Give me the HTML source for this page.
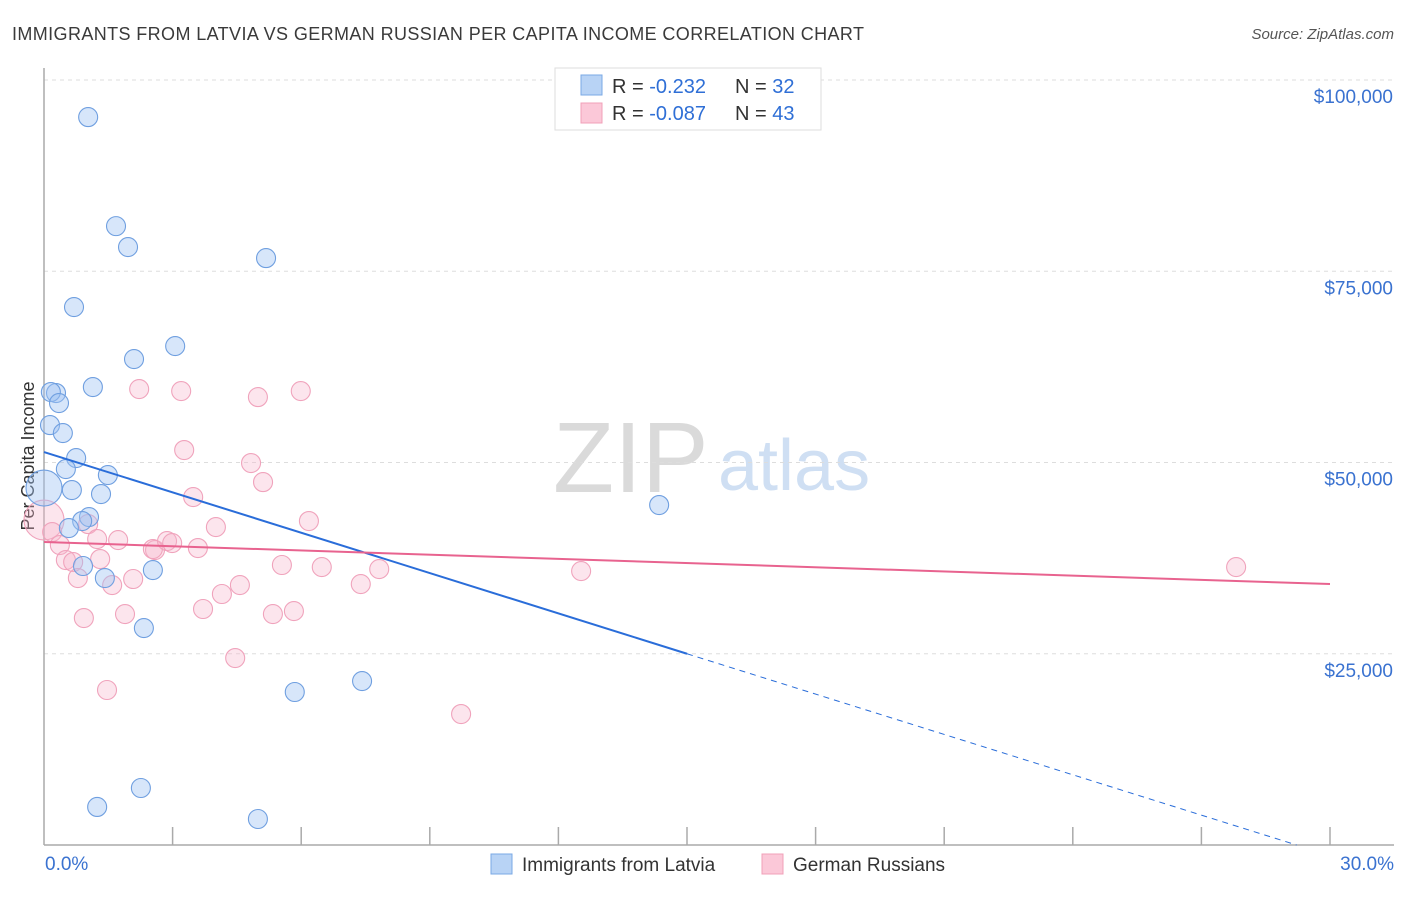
<!DOCTYPE html>
<html><head><meta charset="utf-8"><style>
body{margin:0;background:#fff;font-family:"Liberation Sans",sans-serif}
svg text{font-family:"Liberation Sans",sans-serif}
</style></head><body>
<svg id="c" width="1406" height="892" xmlns="http://www.w3.org/2000/svg">
<text x="12" y="40" font-size="18" fill="#3a3a3a" textLength="852" lengthAdjust="spacing">IMMIGRANTS FROM LATVIA VS GERMAN RUSSIAN PER CAPITA INCOME CORRELATION CHART</text>
<text x="1394" y="39" font-size="15" font-style="italic" fill="#555" text-anchor="end">Source: ZipAtlas.com</text>
<text x="553" y="492" font-size="100" font-family="Liberation Serif" fill="#dadada">ZIP</text>
<text x="718" y="490" font-size="72" fill="#cfdff3">atlas</text>
<text transform="translate(34,456) rotate(-90)" font-size="18" fill="#333" text-anchor="middle">Per Capita Income</text>
<g id="grid"></g><g id="pts"></g><g id="lines"></g>
<g>
<rect x="555" y="68" width="266" height="62" fill="#fff" stroke="#ddd"/>
<rect x="581" y="75" width="21" height="20" fill="#b8d3f5" stroke="#7aa8e5"/>
<rect x="581" y="103" width="21" height="20" fill="#fbc8d8" stroke="#f0a0b8"/>
<text x="612" y="93" font-size="20" fill="#333">R = <tspan fill="#2f6fd6"> -0.232</tspan></text>
<text x="735" y="93" font-size="20" fill="#333">N = <tspan fill="#2f6fd6">32</tspan></text>
<text x="612" y="120" font-size="20" fill="#333">R = <tspan fill="#2f6fd6">-0.087</tspan></text>
<text x="735" y="120" font-size="20" fill="#333">N = <tspan fill="#2f6fd6">43</tspan></text>
</g>
<g>
<rect x="491" y="854" width="21" height="20" fill="#b8d3f5" stroke="#7aa8e5"/>
<text x="522" y="871" font-size="19" fill="#333">Immigrants from Latvia</text>
<rect x="762" y="854" width="21" height="20" fill="#fbc8d8" stroke="#f0a0b8"/>
<text x="793" y="871" font-size="19" fill="#333">German Russians</text>
</g>
</svg>
<script>
const yTicks=[25000,50000,75000,100000];
const yTickLabels=["$25,000","$50,000","$75,000","$100,000"];
const xTickLabels=["0.0%","30.0%"];
const latviaX=[1.03,1.68,1.96,5.18,0.70,3.06,2.10,1.14,0.28,0.16,0.35,0.14,0.44,0.75,0.51,0.0,0.65,1.33,1.49,1.05,0.89,0.58,0.91,1.42,2.54,2.33,5.85,7.42,14.35,2.26,1.24,4.99];
const latviaY=[95150,80900,78160,76720,70320,65220,63520,59860,59080,59210,57770,54890,53850,50580,49140,46660,46400,45880,48360,42870,42350,41430,36470,34900,35940,28360,20000,21430,44440,7450,4970,3400];
const grX=[0,0.19,0.37,0.51,0.68,0.79,0.93,1.03,1.24,1.31,1.59,1.47,1.73,1.89,2.08,2.22,2.59,2.54,2.87,2.99,3.20,3.27,3.48,3.59,3.71,4.01,4.15,4.46,4.57,4.83,4.99,5.11,5.34,5.55,5.83,5.99,6.18,6.48,7.39,7.82,9.73,12.53,27.81];
const grY=[42480,40910,39210,37250,36990,34900,29670,41950,39990,37380,33980,20260,39860,30190,34770,59600,38560,38690,39730,39470,59340,51630,45480,38820,30850,41560,32810,24440,33980,49930,58550,47440,30190,36600,30580,59340,42350,36330,34110,36070,17120,35810,36330];
const latviaTrend=[51370,25000]; // at x=0 and x=15
const grTrend=[39600,34110]; // at x=0 and x=30
const NS="http://www.w3.org/2000/svg";
const X0=44,X1=1330,Y0=845,Yp=80;
const sx=v=>X0+v/30*(X1-X0);
const sy=v=>Y0-v/100000*(Y0-Yp);
function mk(tag,attrs,parent){const e=document.createElementNS(NS,tag);for(const k in attrs)e.setAttribute(k,attrs[k]);parent.appendChild(e);return e;}
const grid=document.getElementById('grid');
yTicks.forEach((t,i)=>{
 const l=mk('line',{x1:X0,x2:1394,y1:sy(t),y2:sy(t),stroke:'#ddd','stroke-dasharray':'4,4'},grid);
 
 
 const tx=mk('text',{x:1393,y:sy(t)+23,'font-size':19,fill:'#3a72d0','text-anchor':'end'},grid);
 tx.textContent=yTickLabels[i];
 
 
});
const ax=mk('line',{x1:X0,x2:X0,y1:68,y2:Y0,stroke:'#aaa','stroke-width':1.5},grid);


const bx=mk('line',{x1:X0,x2:1394,y1:Y0,y2:Y0,stroke:'#aaa','stroke-width':1.5},grid);


for(let i=1;i<=10;i++){
 const t=mk('line',{x1:sx(i*3),x2:sx(i*3),y1:Y0,y2:Y0-18,stroke:'#aaa','stroke-width':1.5},grid);
 
 
}
[[0,'start',45],[30,'end',1394]].forEach((a,i)=>{
 const tx=mk('text',{x:a[2],y:870,'font-size':19,fill:'#3a72d0','text-anchor':a[1]},grid);
 tx.textContent=xTickLabels[i];
 
 
});
const pts=document.getElementById('pts');
grX.forEach((x,i)=>{
 const c=mk('circle',{cx:sx(x),cy:sy(grY[i]),r:x===0?20:9.5,fill:'rgba(246,180,202,0.35)',stroke:'#f0a3bc','stroke-width':1.1},pts);
 
 
});
latviaX.forEach((x,i)=>{
 const c=mk('circle',{cx:sx(x),cy:sy(latviaY[i]),r:x===0?18:9.5,fill:'rgba(160,196,242,0.42)',stroke:'#6f9fe0','stroke-width':1.1},pts);
 
 
});
const lines=document.getElementById('lines');
const slopeL=(latviaTrend[1]-latviaTrend[0])/15;
const l1=mk('line',{x1:sx(0),y1:sy(latviaTrend[0]),x2:sx(15),y2:sy(latviaTrend[1]),stroke:'#2a6dd9','stroke-width':2},lines);


const xEnd=-latviaTrend[0]/slopeL;
const l2=mk('line',{x1:sx(15),y1:sy(latviaTrend[1]),x2:sx(xEnd),y2:sy(0),stroke:'#2a6dd9','stroke-width':1,'stroke-dasharray':'6,5'},lines);


const l3=mk('line',{x1:sx(0),y1:sy(grTrend[0]),x2:sx(30),y2:sy(grTrend[1]),stroke:'#e8638f','stroke-width':2},lines);


</script>
</body></html>
